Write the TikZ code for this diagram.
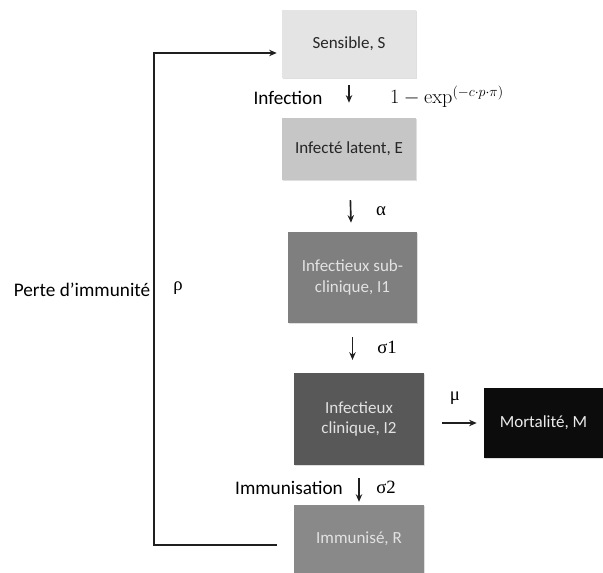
\documentclass[tikz,border=0pt]{standalone}
\usepackage[no-math]{fontspec}
\setmainfont{Carlito}
\newfontfamily\grkfont{Liberation Serif}
\usetikzlibrary{arrows.meta,shadows}
\definecolor{fillS}{HTML}{E4E4E4}
\definecolor{fillE}{HTML}{C6C6C6}
\definecolor{fillIa}{HTML}{7F7F7F}
\definecolor{fillIb}{HTML}{585858}
\definecolor{fillM}{HTML}{0C0C0C}
\definecolor{fillR}{HTML}{898989}
\definecolor{txtdark}{HTML}{262626}
\definecolor{txtlight}{HTML}{E2E2E2}
\tikzset{
  compart/.style={align=center, inner sep=2pt, font=\fontsize{14.5}{17.5}\selectfont,
        drop shadow={shadow xshift=1.2pt, shadow yshift=-1.2pt, opacity=.25}},
  flow/.style={-{Stealth[length=6.5pt,width=5.5pt]}, line width=1.4pt, black!88},
  rate/.style={font=\grkfont\fontsize{16}{19}\selectfont},
  lbl/.style={font=\fontsize{16.4}{19}\selectfont}
}
\begin{document}
\begin{tikzpicture}[x=0.03cm,y=-0.03cm]
\useasboundingbox (0,0) rectangle (603,573);

\node[compart, fill=fillS, text=txtdark, minimum width=4.02cm, minimum height=2.04cm]
        (S) at (349,44) {Sensible, S};
\node[compart, fill=fillE, text=txtdark, minimum width=4.02cm, minimum height=1.86cm]
        (E) at (349,149) {Infecté latent, E};
\node[compart, fill=fillIa, text=txtlight, minimum width=3.87cm, minimum height=2.73cm]
        (I1) at (352.5,277.5) {Infectieux sub-\\clinique, I1};
\node[compart, fill=fillIb, text=txtlight, minimum width=3.9cm, minimum height=2.76cm]
        (I2) at (359,419) {Infectieux\\clinique, I2};
\node[compart, fill=fillM, text=white!92!black, minimum width=3.57cm, minimum height=2.1cm]
        (M) at (543.5,423) {Mortalité, M};
\node[compart, fill=fillR, text=txtlight, minimum width=3.9cm, minimum height=2.04cm]
        (R) at (359,539) {Immunisé, R};

\draw[flow, shorten <=6pt, shorten >=12.8pt] (S) -- (E);
\draw[flow, shorten <=17pt, shorten >=7.7pt] (E) -- (I1);
\draw[flow, shorten <=12pt, shorten >=11pt] (I1.south) -- (I2.north -| I1.south);
\draw[flow, shorten <=11pt, shorten >=2.5pt] (I2) -- (R);
\draw[flow, shorten <=15.3pt, shorten >=6pt] (I2.east |- M.west) -- (M.west);
\draw[flow] ([shift={(-17,6)}]R.west) -- ++(-123,0) |- ([shift={(-5,9)}]S.west);

\node[lbl] (infection) at (288,98) {Infection};
\node[anchor=west, font=\fontsize{17}{20}\selectfont] (force) at (386,97) {$1-\exp^{(-c\cdot p\cdot\pi)}$};
\node[rate] (alpha) at (381,211) {α};
\node[rate] (sigma1) at (387,347) {σ1};
\node[rate] (mu) at (455,398) {μ};
\node[lbl] (immunisation) at (289,488) {Immunisation};
\node[rate] (sigma2) at (386,487) {σ2};
\node[lbl] (perte) at (82,290) {Perte d’immunité};
\node[rate] (rho) at (178,288) {ρ};
\end{tikzpicture}
\end{document}
